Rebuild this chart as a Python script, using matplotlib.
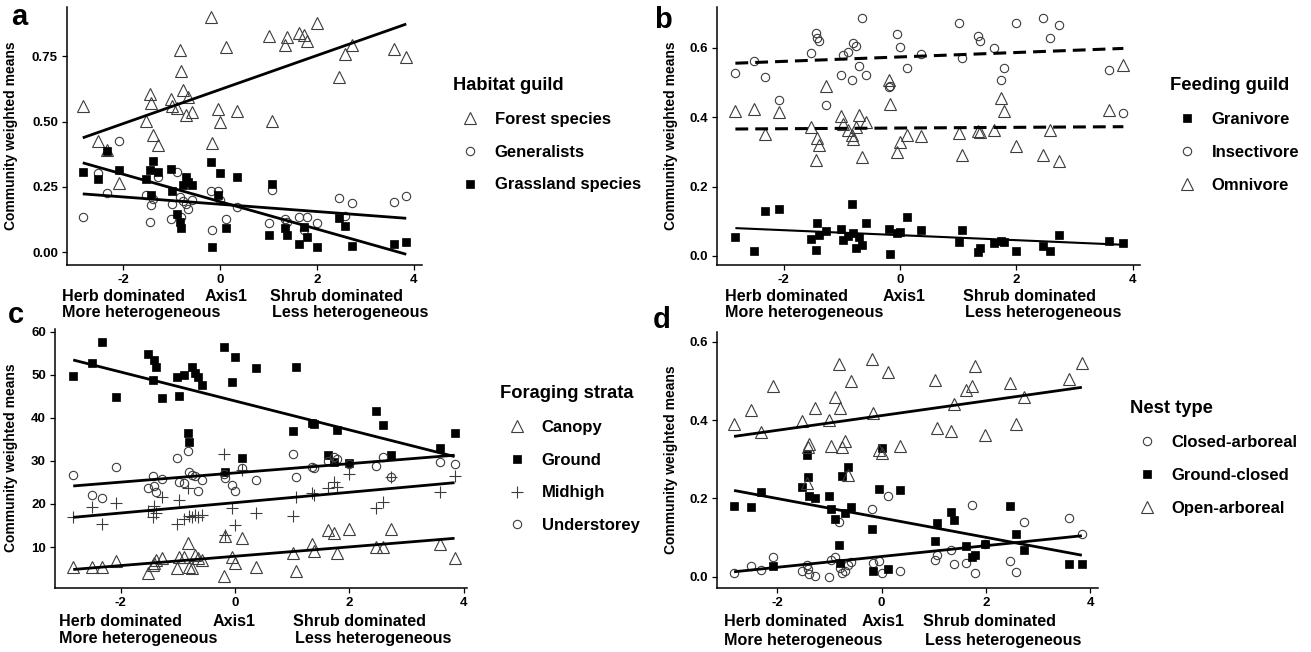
import matplotlib
matplotlib.use("Agg")
import matplotlib.pyplot as plt
from matplotlib.lines import Line2D
import numpy as np

plt.rcParams["font.family"] = ["Liberation Sans", "DejaVu Sans"]
plt.rcParams["font.weight"] = "bold"

W, H = 1311, 652

# site scores on the first ordination axis (shared by all panels)
AXIS1 = np.array([-2.83, -2.51, -2.32, -2.08, -1.53, -1.44, -1.42, -1.39, -1.28,
                  -1.01, -0.98, -0.89, -0.82, -0.80, -0.76, -0.70, -0.65, -0.58,
                  -0.19, -0.17, -0.05, 0.00, 0.12, 0.36, 1.02, 1.07, 1.34, 1.38,
                  1.62, 1.74, 1.79, 1.99, 2.46, 2.58, 2.73, 3.59, 3.84])

# panel a: habitat guild
forest = [0.56, 0.426, 0.39, 0.264, 0.504, 0.605, 0.573, 0.449, 0.411, 0.587, 0.56,
          0.551, 0.774, 0.695, 0.621, 0.526, 0.593, 0.538, 0.899, 0.42, 0.547, 0.497,
          0.784, 0.542, 0.828, 0.504, 0.793, 0.823, 0.838, 0.832, 0.81, 0.879, 0.67,
          0.761, 0.793, 0.777, 0.749]
generalists = [0.134, 0.302, 0.228, 0.426, 0.219, 0.117, 0.181, 0.203, 0.287, 0.128,
               0.185, 0.309, 0.213, 0.134, 0.195, 0.185, 0.165, 0.20, 0.236, 0.085,
               0.236, 0.20, 0.128, 0.175, 0.114, 0.239, 0.128, 0.117, 0.134, 0.085,
               0.136, 0.111, 0.207, 0.139, 0.19, 0.194, 0.216]
grassland = [0.306, 0.279, 0.389, 0.315, 0.281, 0.315, 0.219, 0.348, 0.306, 0.318,
             0.235, 0.145, 0.117, 0.094, 0.258, 0.290, 0.27, 0.258, 0.344, 0.022,
             0.219, 0.305, 0.094, 0.287, 0.068, 0.261, 0.092, 0.068, 0.033, 0.096,
             0.060, 0.019, 0.130, 0.101, 0.024, 0.033, 0.040]

# panel b: feeding guild
granivore = [0.054, 0.015, 0.131, 0.135, 0.048, 0.017, 0.096, 0.061, 0.073, 0.077,
             0.046, 0.058, 0.15, 0.065, 0.022, 0.054, 0.032, 0.096, 0.077, 0.006,
             0.067, 0.07, 0.113, 0.075, 0.041, 0.075, 0.0125, 0.022, 0.038, 0.044,
             0.040, 0.015, 0.029, 0.015, 0.061, 0.044, 0.038]
insectivore = [0.527, 0.563, 0.515, 0.45, 0.585, 0.644, 0.628, 0.621, 0.436, 0.522,
               0.58, 0.587, 0.508, 0.613, 0.606, 0.548, 0.686, 0.522, 0.487, 0.49,
               0.639, 0.604, 0.541, 0.583, 0.671, 0.57, 0.635, 0.621, 0.601, 0.508,
               0.541, 0.673, 0.686, 0.63, 0.666, 0.537, 0.413]
omnivore = [0.419, 0.423, 0.352, 0.416, 0.371, 0.277, 0.339, 0.32, 0.49, 0.404,
            0.381, 0.362, 0.349, 0.337, 0.371, 0.407, 0.285, 0.385, 0.508, 0.438,
            0.301, 0.33, 0.349, 0.346, 0.354, 0.291, 0.359, 0.357, 0.362, 0.455,
            0.419, 0.317, 0.291, 0.362, 0.275, 0.421, 0.551]

# panel c: foraging strata
canopy = [5.3, 5.4, 5.4, 6.8, 4.0, 5.8, 6.2, 7.0, 7.4, 5.1, 7.8, 7.8, 10.9, 5.4, 5.1,
          8.1, 7.5, 7.1, 3.3, 12.5, 7.8, 6.4, 12.2, 5.3, 8.7, 4.5, 10.7, 9.1, 13.9,
          13.3, 8.7, 14.1, 10.1, 10.1, 14.1, 10.7, 7.4]
ground = [49.7, 52.8, 57.6, 44.9, 54.7, 48.7, 53.4, 51.8, 44.6, 49.5, 45.0, 49.9,
          36.5, 34.4, 51.8, 50.4, 49.4, 47.6, 56.5, 27.5, 48.4, 54.0, 30.6, 51.5,
          37.0, 51.7, 38.7, 38.5, 31.3, 29.8, 37.1, 29.4, 41.6, 38.3, 31.3, 32.9, 36.5]
midhigh = [17.0, 19.4, 15.3, 20.3, 18.4, 16.9, 19.5, 17.8, 21.7, 15.3, 20.9, 16.4,
           23.6, 17.2, 17.0, 17.4, 17.0, 17.4, 31.7, 12.8, 19.0, 15.1, 27.9, 18.0,
           17.2, 21.7, 22.6, 22.0, 23.6, 25.2, 24.0, 26.9, 19.0, 20.5, 26.3, 22.8, 26.5]
understorey = [26.7, 22.1, 21.3, 28.6, 23.6, 26.5, 24.2, 22.8, 25.9, 30.6, 25.2, 24.8,
               32.4, 27.5, 26.7, 26.5, 23.1, 25.5, 27.0, 26.0, 24.4, 23.1, 28.3, 25.5,
               31.7, 26.2, 28.6, 28.3, 30.0, 31.0, 30.4, 29.3, 28.8, 31.0, 26.2, 29.8, 29.3]

# panel d: nest type
closed_arboreal = [0.010, 0.026, 0.017, 0.051, 0.015, 0.030, 0.020, 0.007, 0.002, 0.0,
                   0.043, 0.049, 0.14, 0.021, 0.009, 0.015, 0.03, 0.038, 0.174, 0.036,
                   0.041, 0.009, 0.206, 0.015, 0.043, 0.055, 0.068, 0.032, 0.034, 0.183,
                   0.009, 0.083, 0.041, 0.013, 0.14, 0.151, 0.109]
ground_closed = [0.180, 0.179, 0.217, 0.026, 0.228, 0.311, 0.255, 0.206, 0.20, 0.206,
                 0.174, 0.146, 0.081, 0.036, 0.257, 0.162, 0.281, 0.179, 0.123, 0.015,
                 0.223, 0.328, 0.019, 0.221, 0.092, 0.136, 0.166, 0.145, 0.078, 0.049,
                 0.055, 0.083, 0.180, 0.109, 0.068, 0.032, 0.032]
open_arboreal = [0.390, 0.426, 0.370, 0.487, 0.398, 0.238, 0.332, 0.34, 0.432, 0.40,
                 0.334, 0.46, 0.543, 0.432, 0.330, 0.347, 0.26, 0.50, 0.557, 0.417,
                 0.323, 0.315, 0.523, 0.334, 0.502, 0.379, 0.373, 0.441, 0.478, 0.487,
                 0.538, 0.362, 0.494, 0.39, 0.46, 0.506, 0.545]

# fitted lm lines (intercept, slope)
fit_a = [(0.623, 0.0653), (0.184, -0.014), (0.194, -0.0525)]
fit_b = [(0.060, -0.0072), (0.574, 0.0064), (0.369, 0.001)]
fit_c = [(7.86, 1.084), (43.9, -3.36), (20.3, 1.205), (27.2, 1.07)]
fit_d = [(0.0515, 0.0138), (0.150, -0.0248), (0.4115, 0.0188)]

EDGE = "#3c3c3c"
SHAPES = {
    "tri": dict(marker="^", ms=8, mfc="none", mec=EDGE, mew=0.8),
    "circ": dict(marker="o", ms=6, mfc="none", mec=EDGE, mew=0.8),
    "sq": dict(marker="s", ms=5.8, mfc="black", mec="black", mew=0.5),
    "plus": dict(marker="+", ms=9, mec=EDGE, mew=0.8),
}
DASHED = (0, (4.2, 2.3))


def px_rect(left, top, right, bottom):
    return [left / W, 1 - bottom / H, (right - left) / W, (bottom - top) / H]


def px(x, y):
    return x / W, 1 - y / H


def draw_panel(fig, rect, series, fits, shapes, styles, widths, xlim, ylim, yticks,
               yfmt, legend_title, labels, legend_xy, ylabel_xy):
    ax = fig.add_axes(px_rect(*rect))
    for ys, shp in zip(series, shapes):
        ax.plot(AXIS1, ys, linestyle="none", zorder=2, **SHAPES[shp])
    xx = np.array([AXIS1.min(), AXIS1.max()])
    for (b0, b1), ls, lw in zip(fits, styles, widths):
        ax.plot(xx, b0 + b1 * xx, color="black", lw=lw, linestyle=ls, zorder=3,
                solid_capstyle="butt")
    ax.set_xlim(*xlim)
    ax.set_ylim(*ylim)
    ax.set_xticks([-2, 0, 2, 4])
    ax.set_xticklabels(["-2", "0", "2", "4"])
    ax.set_yticks(yticks)
    ax.set_yticklabels([yfmt.format(v) for v in yticks])
    for side in ("top", "right"):
        ax.spines[side].set_visible(False)
    for side in ("left", "bottom"):
        ax.spines[side].set_linewidth(1.1)
    ax.tick_params(length=3.5, width=0.9, labelsize=9.5, pad=3, colors="black")
    ax.set_ylabel("Community weighted means", fontsize=10, fontweight="bold")
    ax.yaxis.set_label_coords(*px(*ylabel_xy), transform=fig.transFigure)

    handles = [Line2D([], [], linestyle="none", **SHAPES[s]) for s in shapes]
    order = np.argsort(labels)
    ax.legend([handles[i] for i in order], [labels[i] for i in order],
              title=legend_title, loc="upper left",
              bbox_to_anchor=px(*legend_xy), bbox_transform=fig.transFigure,
              frameon=False, prop=dict(weight="bold", size=12),
              title_fontproperties=dict(weight="bold", size=13.2),
              handlelength=2.0, handletextpad=0.5, labelspacing=1.07,
              borderpad=0, borderaxespad=0, alignment="left")
    return ax


def under_text(fig, left_x, axis_x, right_x, y1, y2):
    kw = dict(fontsize=11.6, fontweight="bold", va="center", ha="left")
    fig.text(*px(left_x, y1), "Herb dominated", **kw)
    fig.text(*px(axis_x, y1), "Axis1", **kw)
    fig.text(*px(right_x, y1), "Shrub dominated", **kw)
    fig.text(*px(left_x, y2), "More heterogeneous", **kw)
    fig.text(*px(right_x + 2, y2), "Less heterogeneous", **kw)


fig = plt.figure(figsize=(W / 100, H / 100), dpi=100)

draw_panel(fig, (67, 7, 422, 265), [forest, generalists, grassland], fit_a,
           ["tri", "circ", "sq"], ["-", "-", "-"], [2.0, 2.0, 2.0],
           (-3.155, 4.165), (-0.0486, 0.939), [0, 0.25, 0.5, 0.75], "{:.2f}",
           "Habitat guild", ["Forest species", "Generalists", "Grassland species"],
           (453, 77), (18, 136))

draw_panel(fig, (717, 7, 1140, 265), [granivore, insectivore, omnivore], fit_b,
           ["sq", "circ", "tri"], ["-", DASHED, DASHED], [1.5, 2.2, 2.2],
           (-3.146, 4.126), (-0.026, 0.718), [0, 0.2, 0.4, 0.6], "{:.1f}",
           "Feeding guild", ["Granivore", "Insectivore", "Omnivore"],
           (1170, 77), (678, 136))

draw_panel(fig, (55, 329, 467, 588), [canopy, ground, midhigh, understorey],
           fit_c, ["tri", "sq", "plus", "circ"], ["-"] * 4, [2.0] * 4,
           (-3.149, 4.058), (0.49, 60.6), [10, 20, 30, 40, 50, 60], "{:.0f}",
           "Foraging strata", ["Canopy", "Ground", "Midhigh", "Understorey"],
           (500, 385), (18, 458))

draw_panel(fig, (717, 332, 1098, 588),
           [closed_arboreal, ground_closed, open_arboreal], fit_d,
           ["circ", "sq", "tri"], ["-"] * 3, [2.0] * 3,
           (-3.157, 4.15), (-0.029, 0.625), [0, 0.2, 0.4, 0.6], "{:.1f}",
           "Nest type", ["Closed-arboreal", "Ground-closed", "Open-arboreal"],
           (1130, 400), (678, 460))

under_text(fig, 62, 205, 270, 297, 313)
under_text(fig, 725, 883, 963, 297, 313)
under_text(fig, 59, 213, 293, 622, 639)
under_text(fig, 724, 862, 923, 622, 640)

for letter, (lx, ly) in zip("abcd", [(19, 17), (663, 20), (16, 315), (662, 320)]):
    fig.text(*px(lx, ly), letter, fontsize=21, fontweight="bold", ha="center",
             va="center")

fig.savefig("out.png", dpi=100)
